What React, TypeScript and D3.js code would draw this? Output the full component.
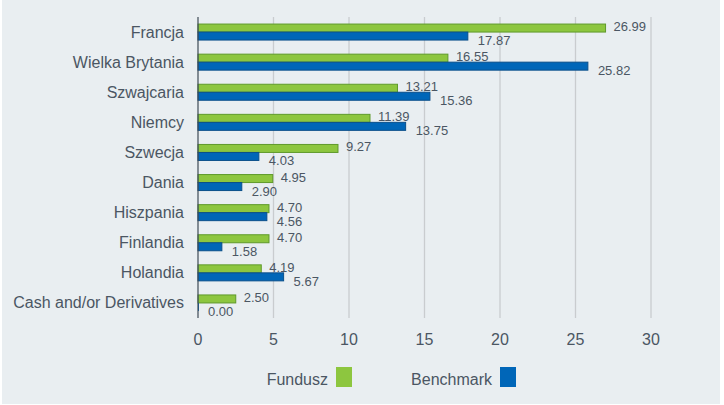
import React from "react";
import * as d3 from "d3";

const categories = ["Francja", "Wielka Brytania", "Szwajcaria", "Niemcy", "Szwecja", "Dania", "Hiszpania", "Finlandia", "Holandia", "Cash and/or Derivatives"];
const fundusz = [26.99, 16.55, 13.21, 11.39, 9.27, 4.95, 4.70, 4.70, 4.19, 2.50];
const benchmark = [17.87, 25.82, 15.36, 13.75, 4.03, 2.90, 4.56, 1.58, 5.67, 0.00];
const xTicks = [0, 5, 10, 15, 20, 25, 30];
const seriesNames = ["Fundusz", "Benchmark"];

const W = 724, H = 405;
const margin = { left: 198, right: 73, top: 17, bottom: 87 };
const font = "Liberation Sans, Arial, sans-serif";
const textColor = "#4b5663";
const green = "#8dc63f", greenStroke = "#5f9a2a";
const blue = "#0066b8", blueStroke = "#0a4f8a";

export default function App() {
  const x = d3.scaleLinear().domain([0, 30]).range([margin.left, W - margin.right]);
  const y = d3.scaleBand().domain(categories).range([margin.top, H - margin.bottom]);
  const barH = 8;
  return (
    <svg width={W} height={H} style={{ position: "fixed", left: 0, top: 0 }} fontFamily={font}>
      <rect x={0} y={0} width={W} height={H} fill="#ffffff" />
      <rect x={2} y={0} width={718} height={404} fill="#e9eef1" />
      {xTicks.map((t) => (
        <g key={t}>
          {t !== 0 && <line x1={x(t)} x2={x(t)} y1={margin.top} y2={H - margin.bottom} stroke="#c9cccf" strokeWidth={1.3} />}
          <text x={x(t)} y={345} textAnchor="middle" fontSize={16} fill={textColor}>{t}</text>
        </g>
      ))}
      {categories.map((c, i) => {
        const cy = (y(c) as number) + y.bandwidth() / 2;
        const fEnd = x(fundusz[i]);
        const bEnd = x(benchmark[i]);
        return (
          <g key={c}>
            <text x={184} y={cy + 5.5} textAnchor="end" fontSize={16} fill={textColor}>{c}</text>
            <rect x={x(0)} y={cy - barH} width={fEnd - x(0)} height={barH} fill={green} stroke={greenStroke} strokeWidth={1} />
            <rect x={x(0)} y={cy} width={Math.max(bEnd - x(0), 1)} height={barH} fill={blue} stroke={blueStroke} strokeWidth={benchmark[i] > 0 ? 1 : 0} />
            <text x={fEnd + 8} y={cy - 1} fontSize={13} fill={textColor}>{fundusz[i].toFixed(2)}</text>
            <text x={bEnd + 10} y={cy + 13} fontSize={13} fill={textColor}>{benchmark[i].toFixed(2)}</text>
          </g>
        );
      })}
      <line x1={x(0)} x2={x(0)} y1={margin.top} y2={H - margin.bottom} stroke="#3e4a56" strokeWidth={1.2} />
      <text x={328} y={385} textAnchor="end" fontSize={16} fill={textColor}>{seriesNames[0]}</text>
      <rect x={336} y={367} width={16} height={20} fill={green} />
      <text x={492} y={385} textAnchor="end" fontSize={16} fill={textColor}>{seriesNames[1]}</text>
      <rect x={500} y={367} width={16} height={20} fill={blue} />
    </svg>
  );
}
